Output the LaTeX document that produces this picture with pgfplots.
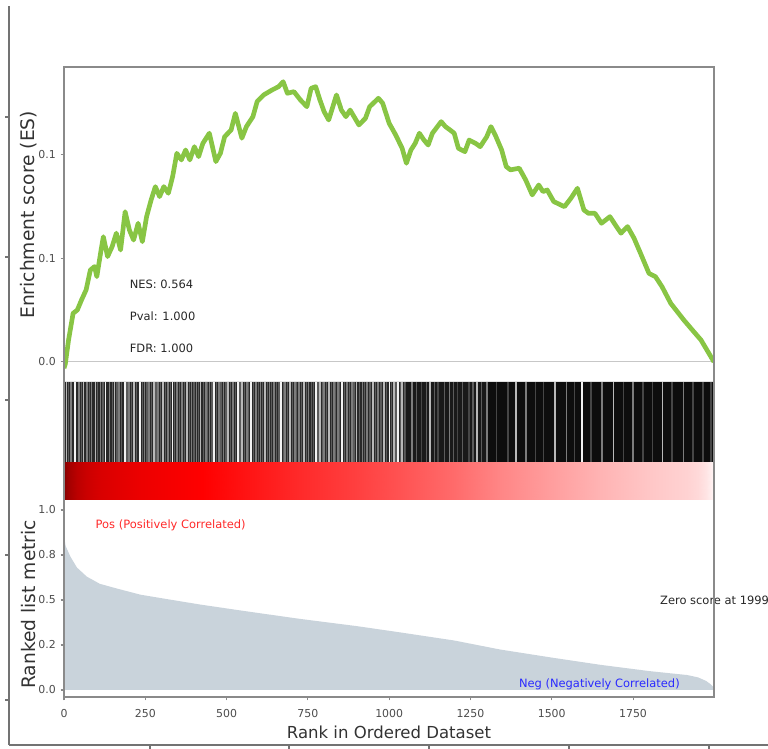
\documentclass[border=0pt]{standalone}
\usepackage{pgfplots}
\usepackage{pgfplotstable}
\pgfplotsset{compat=1.18}
\usepackage{fontspec}
\setmainfont{DejaVu Sans}

\definecolor{esgreen}{HTML}{88C544}
\definecolor{metricfill}{HTML}{C9D3DB}
\definecolor{spine}{HTML}{8A8A8A}
\definecolor{posred}{HTML}{FF2A2A}
\definecolor{negblue}{HTML}{2A2AFF}
\definecolor{cW}{HTML}{F2F2F2}
\definecolor{cL}{HTML}{B8B8B8}
\definecolor{cM}{HTML}{7C7C7C}
\definecolor{cG}{HTML}{5C5C5C}
\definecolor{cD}{HTML}{464646}

\newcommand\tickfont{\fontsize{8.2}{9.8}\selectfont}
\newcommand\labfont{\fontsize{12.4}{14.8}\selectfont}
\newcommand\ylabfont{\fontsize{14}{16.8}\selectfont}
\newcommand\annfont{\fontsize{8.6}{10.3}\selectfont}

% ranked list metric
\pgfplotstableread{
x c
0 0.86
5 0.80
20 0.74
40 0.68
70 0.63
110 0.59
160 0.565
234 0.53
300 0.51
418 0.475
550 0.44
726 0.395
900 0.355
1034 0.32
1200 0.275
1341 0.225
1500 0.18
1649 0.14
1800 0.105
1917 0.083
1950 0.07
1975 0.05
1990 0.03
1999 0.012
}\metric

\pgfplotsset{
  panel/.style={scale only axis, anchor=south west, width=487.5pt,
    xmin=0, xmax=1999, axis line style={draw=none},
    tick pos=left, tick align=outside, major tick length=2.6pt,
    tick style={spine, line width=0.8pt},
    tick label style={font=\tickfont, text=black!70},
    xlabel style={font=\labfont, text=black!80},
    ylabel style={font=\ylabfont, text=black!80}},
}

\begin{document}
\begin{tikzpicture}
\useasboundingbox (0pt,0pt) rectangle (576pt,561.75pt);
\clip (0pt,0pt) rectangle (576pt,561.75pt);

% outer (empty) axes behind the figure
\begin{axis}[at={(6.75pt,3pt)}, anchor=south west, scale only axis,
  width=593.25pt, height=554.25pt, xmin=9, xmax=800, ymin=4, ymax=743,
  axis x line*=bottom, axis y line*=left,
  xtick={150,289,429,569,709}, ytick={49,194,349,492,632},
  xticklabels={}, yticklabels={}, tick align=outside, major tick length=3pt,
  axis line style={draw=black!55, line width=0.9pt},
  tick style={black!55, line width=0.9pt}]
\end{axis}

% enrichment score
\begin{axis}[panel, at={(48pt,280.5pt)}, height=231pt,
  ymin=-0.0063, ymax=0.1425, xtick=\empty,
  ytick={0,0.05,0.1}, yticklabels={0.0,0.1,0.1},
  ylabel={Enrichment score (ES)},
  ylabel style={at={(axis description cs:-0.055,0.52)}, anchor=center}]
\addplot[color=black!22, line width=0.8pt] coordinates {(0,0) (1999,0)};
\addplot[color=esgreen, line width=3.5pt, line join=round] coordinates {
(0,-0.003) (4,-0.001) (14,0.0106) (28,0.0235) (41,0.0251) (54,0.0300)
(68,0.0348) (81,0.0444) (94,0.0461) (101,0.0412) (114,0.0541) (121,0.0605)
(134,0.0509) (148,0.0557) (161,0.0622) (174,0.0541) (188,0.0726) (201,0.0638)
(214,0.0589) (228,0.0670) (241,0.0581) (254,0.0702) (268,0.0783) (281,0.0847)
(294,0.0799) (307,0.0847) (321,0.0815) (334,0.0895) (347,0.1008) (361,0.0976)
(374,0.1024) (387,0.0976) (401,0.1040) (414,0.0992) (427,0.1056) (447,0.1105)
(467,0.0968) (481,0.1008) (494,0.1088) (514,0.1121) (527,0.1201) (547,0.1081)
(561,0.1137) (581,0.1185) (594,0.1258) (614,0.1290) (640,0.1314) (660,0.1330)
(674,0.1354) (687,0.1298) (707,0.1306) (727,0.1266) (747,0.1233) (760,0.1322)
(774,0.1330) (787,0.1266) (800,0.1209) (814,0.1169) (838,0.1290) (853,0.1217)
(867,0.1185) (880,0.1217) (907,0.1145) (927,0.1177) (940,0.1233) (967,0.1274)
(980,0.1250) (1000,0.1153) (1020,0.1097) (1040,0.1032) (1053,0.0960) (1067,0.1024)
(1080,0.1056) (1093,0.1105) (1107,0.1072) (1120,0.1048) (1133,0.1105) (1160,0.1161)
(1173,0.1137) (1187,0.1121) (1200,0.1105) (1213,0.1032) (1233,0.1016) (1246,0.1072)
(1266,0.1056) (1280,0.1040) (1300,0.1088) (1313,0.1137) (1326,0.1097) (1346,0.1024)
(1360,0.0944) (1373,0.0928) (1400,0.0936) (1420,0.0879) (1440,0.0807) (1460,0.0855)
(1473,0.0823) (1486,0.0831) (1506,0.0775) (1539,0.0750) (1559,0.0791) (1579,0.0839)
(1599,0.0734) (1613,0.0718) (1633,0.0718) (1653,0.0670) (1679,0.0702) (1699,0.0654)
(1713,0.0622) (1733,0.0654) (1753,0.0598) (1773,0.0525) (1799,0.0428) (1819,0.0412)
(1839,0.0364) (1866,0.0283) (1906,0.0203) (1932,0.0155) (1959,0.0106) (1999,0.0)
};
\node[anchor=west, font=\annfont, text=black!85] at (axis cs:188,0.0377) {NES: 0.564};
\node[anchor=west, font=\annfont, text=black!85] at (axis cs:188,0.0222) {Pval: 1.000};
\node[anchor=west, font=\annfont, text=black!85] at (axis cs:188,0.0068) {FDR: 1.000};
\end{axis}

% hits
\begin{axis}[panel, at={(48pt,215.25pt)}, height=60pt, ymin=0, ymax=1, ticks=none]
\addplot[fill=black!84, draw=none] coordinates {(0,0) (0,1) (1050,1) (1050,0)} \closedcycle;
\addplot[fill=black!90, draw=none] coordinates {(1050,0) (1050,1) (1300,1) (1300,0)} \closedcycle;
\addplot[fill=black!95, draw=none] coordinates {(1300,0) (1300,1) (1999,1) (1999,0)} \closedcycle;
\addplot[ycomb, color=cG, line width=0.9pt] coordinates {
(15,1) (53,1) (78,1) (104,1) (120,1) (148,1) (163,1) (178,1) (194,1) (208,1)
(222,1) (241,1) (255,1) (269,1) (283,1) (298,1) (313,1) (327,1) (341,1) (355,1)
(370,1) (385,1) (400,1) (414,1) (428,1) (442,1) (455,1) (469,1) (483,1) (498,1)
(512,1) (527,1) (541,1) (555,1) (568,1) (582,1) (597,1) (611,1) (625,1) (639,1)
(653,1) (661,1) (674,1) (688,1) (702,1) (716,1) (730,1) (745,1) (760,1) (767,1)
(781,1) (794,1) (807,1) (822,1) (836,1) (848,1) (862,1) (877,1) (892,1) (908,1)
(925,1) (941,1) (958,1) (975,1) (993,1) (1008,1) (1021,1) (1034,1) (1047,1)
(1085,1) (1115,1) (1140,1) (1170,1) (1198,1) (1225,1) (1258,1) (1285,1)};
\addplot[ycomb, color=cM, line width=1.2pt] coordinates {
(22,1) (47,1) (71,1) (85,1) (112,1) (140,1) (170,1) (200,1) (248,1) (262,1)
(290,1) (320,1) (348,1) (362,1) (392,1) (407,1) (436,1) (448,1) (476,1) (490,1)
(520,1) (562,1) (590,1) (604,1) (632,1) (646,1) (680,1) (710,1) (722,1) (752,1)
(800,1) (830,1) (842,1) (870,1) (885,1) (918,1) (932,1) (965,1) (1070,1) (1185,1)
(1300,1) (1420,1) (1545,1) (1655,1) (1750,1) (1905,1)};
\addplot[ycomb, color=cD, line width=1.1pt] coordinates {
(1100,1) (1150,1) (1210,1) (1245,1) (1330,1) (1365,1) (1450,1) (1475,1) (1570,1)
(1620,1) (1720,1) (1780,1) (1810,1) (1870,1) (1935,1) (1965,1) (1990,1)};
\addplot[ycomb, color=cL, line width=1.2pt] coordinates {
(8,1) (60,1) (97,1) (155,1) (215,1) (276,1) (305,1) (378,1) (420,1) (505,1)
(548,1) (618,1) (695,1) (738,1) (788,1) (815,1) (900,1) (950,1) (985,1) (1015,1)
(1040,1) (1125,1) (1270,1) (1390,1) (1510,1) (1690,1) (1840,1)};
\addplot[ycomb, color=cW, line width=1.3pt] coordinates {
(34,1) (128,1) (188,1) (234,1) (334,1) (461,1) (534,1) (574,1) (668,1) (774,1)
(854,1) (1001,1) (1027,1) (1594,1)};
\end{axis}

% rank colour bar
\begin{axis}[panel, at={(48pt,186.75pt)}, height=28.5pt, ymin=0, ymax=1, ticks=none,
  view={0}{90},
  colormap={gsea}{rgb(0pt)=(1,1,1) rgb(55pt)=(1,0,0) rgb(100pt)=(0.5,0,0)},
  point meta min=0, point meta max=0.86]
\addplot3[surf, shader=interp, mesh/rows=2, point meta=explicit] coordinates {
(0,0,0) [0.86] (5,0,0) [0.80] (20,0,0) [0.74] (40,0,0) [0.68] (70,0,0) [0.63] (110,0,0) [0.59]
(160,0,0) [0.565] (234,0,0) [0.53] (300,0,0) [0.51] (418,0,0) [0.475] (550,0,0) [0.44]
(726,0,0) [0.395] (900,0,0) [0.355] (1034,0,0) [0.32] (1200,0,0) [0.275] (1341,0,0) [0.225]
(1500,0,0) [0.18] (1649,0,0) [0.14] (1800,0,0) [0.105] (1917,0,0) [0.083] (1950,0,0) [0.07]
(1975,0,0) [0.05] (1990,0,0) [0.03] (1999,0,0) [0.012]

(0,1,0) [0.86] (5,1,0) [0.80] (20,1,0) [0.74] (40,1,0) [0.68] (70,1,0) [0.63] (110,1,0) [0.59]
(160,1,0) [0.565] (234,1,0) [0.53] (300,1,0) [0.51] (418,1,0) [0.475] (550,1,0) [0.44]
(726,1,0) [0.395] (900,1,0) [0.355] (1034,1,0) [0.32] (1200,1,0) [0.275] (1341,1,0) [0.225]
(1500,1,0) [0.18] (1649,1,0) [0.14] (1800,1,0) [0.105] (1917,1,0) [0.083] (1950,1,0) [0.07]
(1975,1,0) [0.05] (1990,1,0) [0.03] (1999,1,0) [0.012]
};
\end{axis}

% ranked list metric
\begin{axis}[panel, at={(48pt,39pt)}, height=147.75pt, clip=false,
  ymin=-0.0389, ymax=1.0556,
  xtick={0,250,500,750,1000,1250,1500,1750},
  xticklabels={0,250,500,750,1000,1250,1500,1750},
  xticklabel style={yshift=-3.5pt},
  ytick={0,0.25,0.5,0.75,1}, yticklabels={0.0,0.2,0.5,0.8,1.0},
  xlabel={Rank in Ordered Dataset},
  xlabel style={at={(axis description cs:0.5,0)}, anchor=center, yshift=-26.25pt},
  ylabel={Ranked list metric},
  ylabel style={at={(axis description cs:-0.055,0.47)}, anchor=center}]
\addplot[fill=metricfill, draw=none] table[x=x, y=c] {\metric} \closedcycle;
\node[anchor=west, font=\annfont, text=posred] at (axis cs:83,0.917) {Pos (Positively Correlated)};
\node[anchor=west, font=\annfont, text=negblue] at (axis cs:1385,0.033) {Neg (Negatively Correlated)};
\node[anchor=west, font=\annfont, text=black!85] at (axis cs:1819,0.5) {Zero score at 1999};
\end{axis}

% frame of the three panels
\begin{axis}[at={(48pt,39pt)}, anchor=south west, scale only axis,
  width=487.5pt, height=472.5pt, xmin=0, xmax=1, ymin=0, ymax=1,
  ticks=none, axis line style={draw=spine, line width=0.9pt}]
\end{axis}
\end{tikzpicture}
\end{document}
